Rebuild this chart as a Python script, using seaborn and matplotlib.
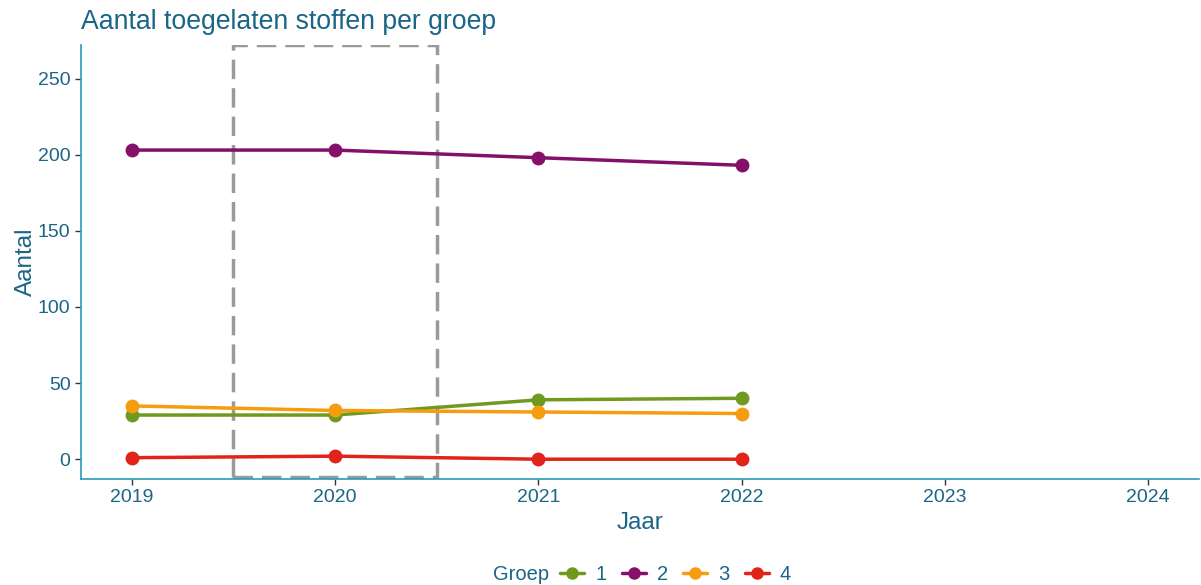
import matplotlib
matplotlib.use("Agg")
import matplotlib.pyplot as plt
import seaborn as sns
import pandas as pd
from matplotlib.patches import Rectangle
from matplotlib.lines import Line2D
from matplotlib.offsetbox import HPacker

years = [2019, 2020, 2021, 2022]
groep_1 = [29, 29, 39, 40]
groep_2 = [203, 203, 198, 193]
groep_3 = [35, 32, 31, 30]
groep_4 = [1, 2, 0, 0]
groups = ["1", "2", "3", "4"]
colors = ["#6F9A1F", "#84106A", "#F59C0F", "#E2231A"]
x_ticks = [2019, 2020, 2021, 2022, 2023, 2024]
y_ticks = [0, 50, 100, 150, 200, 250]

sns.set_theme(style="white")
plt.rcParams['font.family'] = ['Arial', 'Liberation Sans', 'DejaVu Sans']

txt = "#1B6587"
axc = "#2A9BB8"

df = pd.DataFrame({
    "Jaar": years * 4,
    "Aantal": groep_1 + groep_2 + groep_3 + groep_4,
    "Groep": sum([[g] * len(years) for g in groups], []),
})

fig = plt.figure(figsize=(12.01, 5.85), dpi=100)
ax = fig.add_axes([81 / 1201, 1 - 479 / 585, (1199 - 81) / 1201, (479 - 45) / 585])

ax.add_patch(Rectangle((2019.5, -12), 1.0, 284, fill=False, edgecolor="#9A9A9A",
                       linestyle=(0, (5.6, 2.6)), linewidth=2.5, zorder=1))

sns.lineplot(data=df, x="Jaar", y="Aantal", hue="Groep", palette=colors,
             marker="o", markersize=10, markeredgewidth=0, linewidth=2.5,
             ax=ax, legend=False, zorder=3)

ax.set_xlim(2018.75, 2024.25)
ax.set_ylim(-13, 272)
ax.set_xticks(x_ticks)
ax.set_yticks(y_ticks)
ax.tick_params(axis="both", colors="#333333", labelcolor=txt, labelsize=14,
               length=4, width=1, direction="out", bottom=True, left=True)
for s in ["top", "right"]:
    ax.spines[s].set_visible(False)
for s in ["left", "bottom"]:
    ax.spines[s].set_color(axc)
    ax.spines[s].set_linewidth(1.2)
ax.grid(False)

ax.set_xlabel("Jaar", color=txt, fontsize=17.5, labelpad=4)
ax.set_ylabel("Aantal", color=txt, fontsize=17.5, labelpad=1)
fig.text(81 / 1201, 1 - 22 / 585, "Aantal toegelaten stoffen per groep", color=txt,
         fontsize=19.2, va="center", ha="left")

handles = [Line2D([0], [0], color=c, marker="o", markersize=9, linewidth=2.5,
                  markeredgewidth=0) for c in colors]
leg = fig.legend(handles, groups, loc="center", bbox_to_anchor=(642 / 1201, 1 - 575 / 585),
                 ncol=4, frameon=False, title="Groep", fontsize=14.5, title_fontsize=14.5,
                 handlelength=1.2, handletextpad=0.55, columnspacing=0.75)
children = leg._legend_box.get_children()
leg._legend_box = HPacker(pad=0, sep=8, align="center", children=children)
leg._legend_box.set_figure(fig)
leg._legend_box.set_offset(leg._findoffset)
for t in leg.get_texts():
    t.set_color(txt)
leg.get_title().set_color(txt)

fig.savefig("out.png", dpi=100)
